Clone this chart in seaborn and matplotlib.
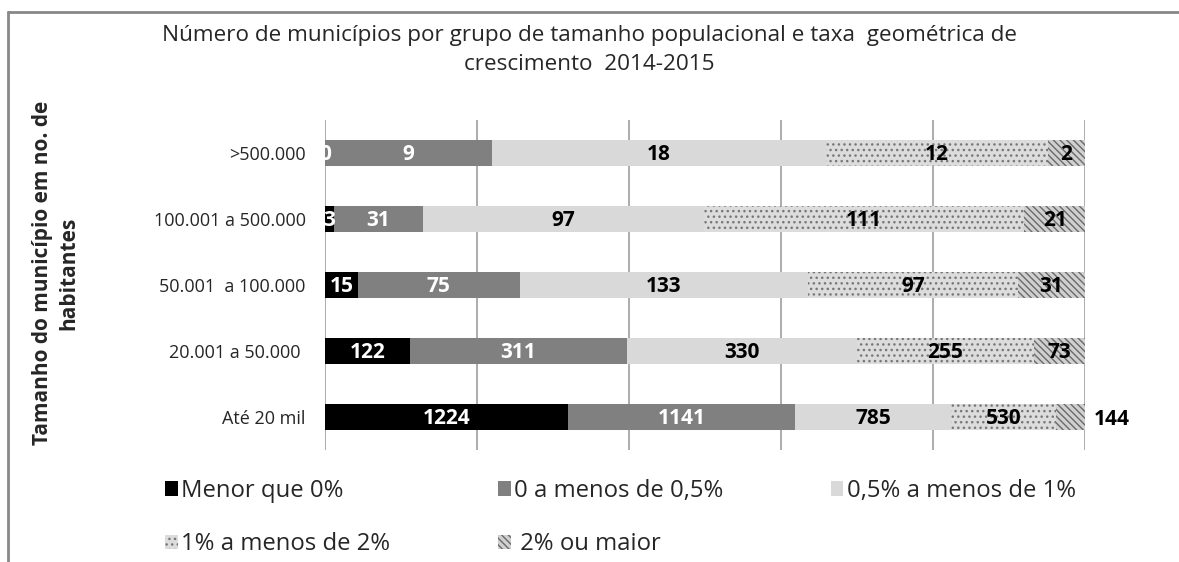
#bibliotecas
import numpy as np
import pandas as pd
import matplotlib.pyplot as plt
import seaborn as sns
from matplotlib.patches import Patch
from matplotlib.lines import Line2D

#dados do grafico (numero de municipios)
tamanhos = ['>500.000', '100.001 a 500.000', '50.001  a 100.000', '20.001 a 50.000 ', 'Até 20 mil']
menor_0 = [0, 3, 15, 122, 1224]
de_0_a_05 = [9, 31, 75, 311, 1141]
de_05_a_1 = [18, 97, 133, 330, 785]
de_1_a_2 = [12, 111, 97, 255, 530]
de_2_ou_mais = [2, 21, 31, 73, 144]

faixas = ['Menor que 0%', '0 a menos de 0,5%', '0,5% a menos de 1%',
          '1% a menos de 2%', ' 2% ou maior']
series = [menor_0, de_0_a_05, de_05_a_1, de_1_a_2, de_2_ou_mais]

#estilo de cada faixa
cores = ['#000000', '#808080', '#d9d9d9', '#dcdcdc', '#d0d0d0']
hachuras = [None, None, None, '...', '\\\\\\\\\\']
cor_hachura = ['#000000', '#808080', '#d9d9d9', '#777777', '#6a6a6a']
cor_texto = ['white', 'white', 'black', 'black', 'black']

sns.set_style('white')
plt.rcParams['font.family'] = ['Open Sans', 'DejaVu Sans']
plt.rcParams['hatch.linewidth'] = 1.0

fig = plt.figure(figsize=(11.79, 5.62), dpi=100)
ax = fig.add_axes([0.2757, 0.1993, 0.6446, 0.5872])

#proporcoes (barras 100% empilhadas)
valores = np.array(series, dtype=float)
totais = valores.sum(axis=0)
proporcoes = valores / totais
acumulado = np.cumsum(proporcoes, axis=0)

#desenha do ultimo para o primeiro para empilhar
for k in reversed(range(len(series))):
    df = pd.DataFrame({'tamanho': tamanhos, 'acum': acumulado[k]})
    n_antes = len(ax.patches)
    sns.barplot(data=df, x='acum', y='tamanho', order=tamanhos, orient='h',
                color=cores[k], saturation=1, width=0.4, errorbar=None, ax=ax)
    for p in ax.patches[n_antes:]:
        p.set_linewidth(0)
        p.set_edgecolor(cor_hachura[k])
        if hachuras[k]:
            p.set_hatch(hachuras[k])

#rotulos de dados
for k in range(len(series)):
    inicio = acumulado[k] - proporcoes[k]
    for i, v in enumerate(series[k]):
        if k == len(series) - 1 and proporcoes[k][i] < 0.045:
            ax.annotate(str(v), xy=(acumulado[k][i], i), xytext=(6, -2),
                        textcoords='offset points', ha='left', va='center',
                        fontsize=15, fontweight='bold', color='black')
        else:
            ax.text(inicio[i] + proporcoes[k][i] / 2, i + 0.02, str(v),
                    ha='center', va='center', fontsize=15, fontweight='bold',
                    color=cor_texto[k])

ax.set_xlim(0, 1)
ax.set_ylim(4.5, -0.5)
ax.set_xticks(np.arange(0, 1.01, 0.2))
ax.set_xticklabels([])
ax.set_xlabel('')
ax.set_ylabel('')
ax.set_axisbelow(True)
ax.xaxis.grid(True, color='#a6a6a6', linewidth=1.3)
ax.yaxis.grid(False)
ax.tick_params(axis='y', length=0, pad=14, labelsize=13)
ax.tick_params(axis='x', length=0)
sns.despine(ax=ax, left=True, bottom=True)

fig.suptitle('Número de municípios por grupo de tamanho populacional e taxa  geométrica de\ncrescimento  2014-2015',
             x=0.5, y=1 - 25 / 562, va='top', fontsize=16.2, linespacing=1.5)

fig.text(56 / 1179, 0.514, 'Tamanho do município em no. de\nhabitantes', rotation=90,
         ha='center', va='center', multialignment='center', fontsize=15,
         fontweight='bold', linespacing=1.35)

#legenda (ordem por linha)
handles = [Patch(facecolor=cores[k], edgecolor=cor_hachura[k], linewidth=0,
                 hatch=hachuras[k]) for k in range(len(series))]
ordem = [0, 3, 1, 4, 2]
fig.legend([handles[i] for i in ordem], [faixas[i] for i in ordem], ncol=3,
           loc='upper left', bbox_to_anchor=(165 / 1179, 1 - 479 / 562), frameon=False,
           fontsize=17.2, handlelength=0.54, handleheight=0.54, handletextpad=0.13,
           columnspacing=4.5, labelspacing=1.22, borderpad=0, borderaxespad=0)

#moldura do grafico
fig.add_artist(Line2D([8 / 1179, 1], [1 - 12 / 562, 1 - 12 / 562],
                      transform=fig.transFigure, color='#888888', linewidth=2))
fig.add_artist(Line2D([8 / 1179, 8 / 1179], [0, 1 - 12 / 562],
                      transform=fig.transFigure, color='#888888', linewidth=2))

fig.savefig('out.png', dpi=100)
